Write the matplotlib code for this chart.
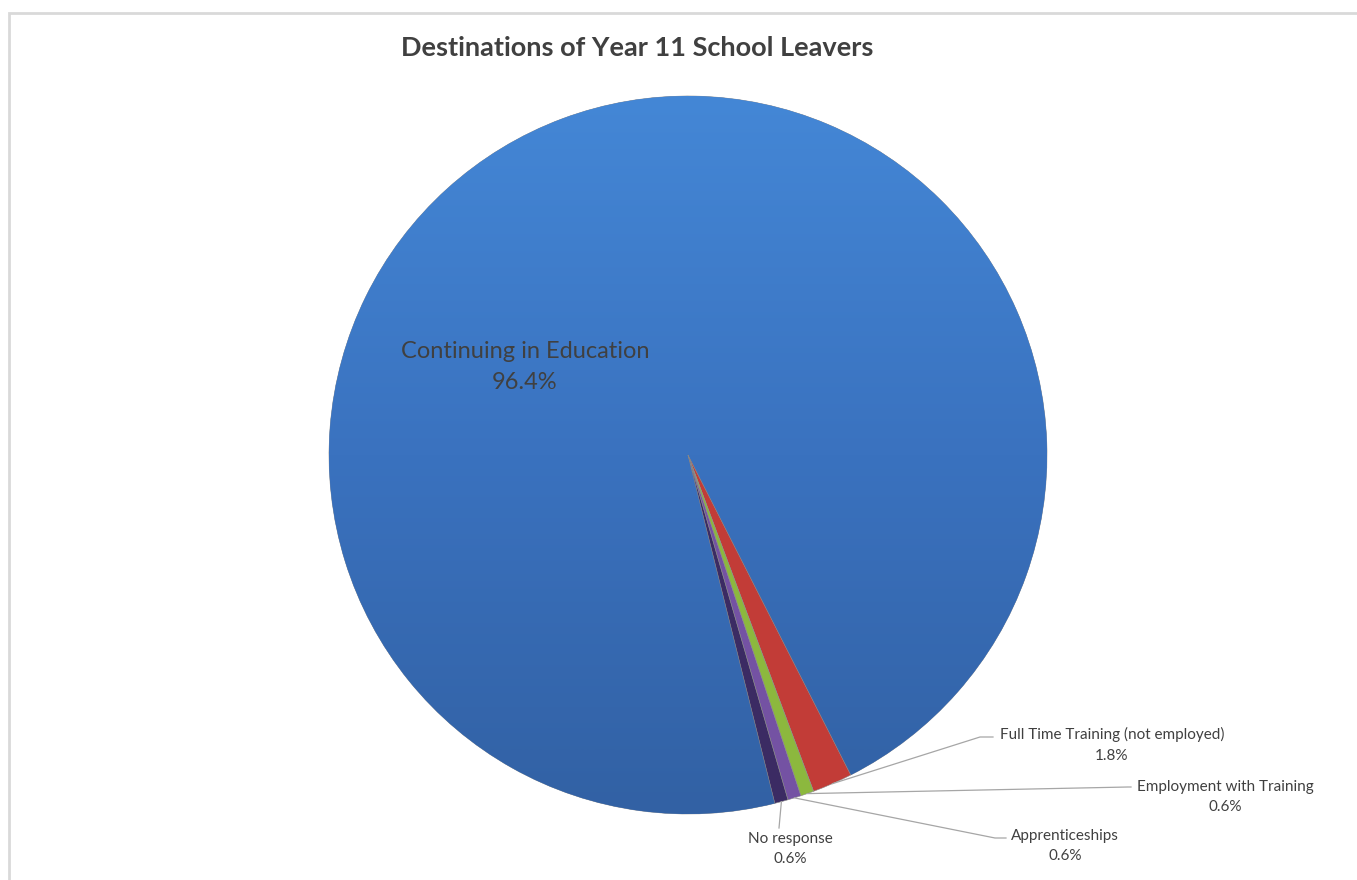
import numpy as np
import matplotlib.pyplot as plt
from matplotlib.colors import LinearSegmentedColormap
from matplotlib.patches import Rectangle

plt.rcParams['font.family'] = ['Lato', 'DejaVu Sans']

# data (Excel order, clockwise from the first slice)
categories = ["Continuing in Education", "Full Time Training (not employed)",
              "Employment with Training", "Apprenticeships", "No response"]
shares = [96.4, 1.8, 0.6, 0.6, 0.6]
colors = ["#3b74c0", "#c23c37", "#8cb83e", "#7452a3", "#3b2b63"]

W, H = 1357, 880
fig = plt.figure(figsize=(W / 100, H / 100), dpi=100)
ax = fig.add_axes([0, 0, 1, 1])

# chart frame
fig.patches.append(Rectangle((9 / W, -0.1), 1.2, 1 - 13 / H + 0.1, transform=fig.transFigure,
                             fill=False, edgecolor="#d9d9d9", linewidth=2))

cx, cy, r = 688, H - 455, 359
wedges, _ = ax.pie(shares, colors=colors, startangle=-76, counterclock=False,
                   center=(cx, cy), radius=r, frame=True,
                   wedgeprops=dict(edgecolor="#8a8a8a", linewidth=0.4))
ax.set_xlim(0, W)
ax.set_ylim(0, H)
ax.set_aspect("equal")
ax.axis("off")

# soft vertical gradient on the big slice
grad = np.linspace(0, 1, 256).reshape(-1, 1)
cmap = LinearSegmentedColormap.from_list("b", ["#3261a4", "#3a72bf", "#4487d6"])
im = ax.imshow(grad, extent=(cx - r, cx + r, cy - r, cy + r), origin="lower",
               cmap=cmap, aspect="auto", zorder=wedges[0].get_zorder() + 0.1)
im.set_clip_path(wedges[0])
for w in wedges[1:]:
    w.set_zorder(wedges[0].get_zorder() + 0.2)

ax.text(637, H - 48, "Destinations of Year 11 School Leavers", ha="center", va="center",
        fontsize=19.5, fontweight="bold", color="#404040")

ax.text(525, H - 367, categories[0] + "\n" + "%.1f%%" % shares[0], ha="center", va="center",
        fontsize=17, color="#404040", linespacing=1.6, zorder=10)

# outside labels: (text centre, leader elbow, leader end)
label_pos = [None,
             ((1112, H - 745), (980, H - 737), (993, H - 737)),
             ((1225, H - 797), (1128, H - 787), (1131, H - 787)),
             ((1065, H - 846), (995, H - 838), (1006, H - 838)),
             ((790, H - 849), (779, H - 828), (779, H - 828))]

for i in range(1, len(categories)):
    w = wedges[i]
    mid = np.deg2rad((w.theta1 + w.theta2) / 2)
    sx, sy = cx + r * np.cos(mid), cy + r * np.sin(mid)
    (tx, ty), (ex, ey), (fx, fy) = label_pos[i]
    ax.plot([sx, ex, fx], [sy, ey, fy], color="#a6a6a6", linewidth=0.9, zorder=9)
    ax.text(tx, ty, categories[i] + "\n" + "%.1f%%" % shares[i], ha="center", va="center",
            fontsize=11, color="#404040", linespacing=1.6, zorder=10)

fig.savefig("out.png", dpi=100)
